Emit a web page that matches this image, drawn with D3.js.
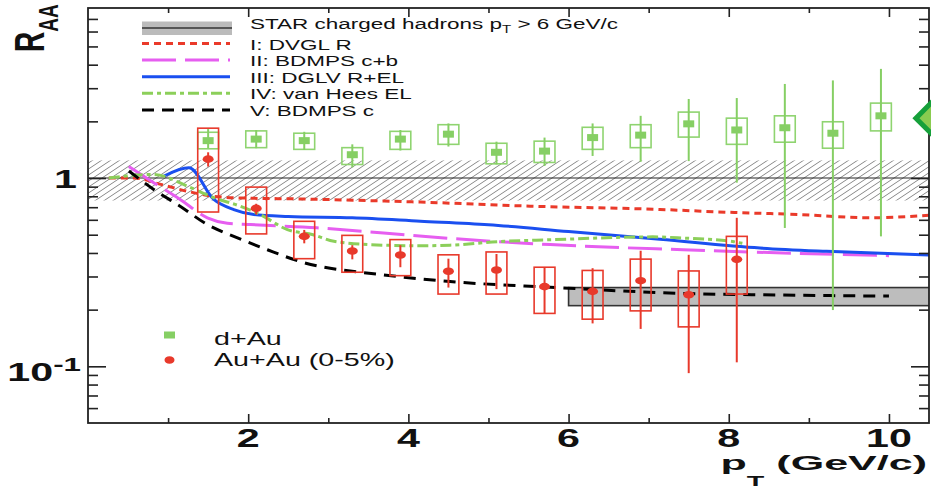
<!DOCTYPE html>
<html>
<head>
<meta charset="utf-8">
<script src="https://cdn.jsdelivr.net/npm/d3@7"></script>
<style>
  body { margin: 0; background: #fff; }
  svg { display: block; }
  text { font-family: "Liberation Sans", Arial, Helvetica, sans-serif; fill: #111; }
</style>
</head>
<body>
<svg id="chart" width="931" height="488"></svg>
<script>
// ---------------- data ----------------
// pT bin centres (GeV/c)
const ptBins = [1.5, 2.1, 2.7, 3.3, 3.9, 4.5, 5.1, 5.7, 6.3, 6.9, 7.5, 8.1, 8.7, 9.3, 9.9];

// d+Au non-photonic electron R_dAu
const dAuValues   = [1.58, 1.61, 1.58, 1.33, 1.61, 1.71, 1.37, 1.39, 1.64, 1.69, 1.94, 1.80, 1.85, 1.73, 2.14];
const dAuStatLow  = [1.44, 1.44, 1.41, 1.14, 1.40, 1.47, 1.18, 1.16, 1.31, 1.22, 1.23, 0.945, 0.543, 0.199, 0.49];
const dAuStatHigh = [1.82, 1.80, 1.76, 1.51, 1.80, 1.95, 1.56, 1.64, 1.95, 2.14, 2.63, 2.66, 3.16, 3.30, 3.80];
const dAuSysLow   = [1.43, 1.45, 1.42, 1.18, 1.42, 1.51, 1.19, 1.21, 1.42, 1.45, 1.65, 1.51, 1.55, 1.44, 1.78];
const dAuSysHigh  = [1.75, 1.78, 1.73, 1.45, 1.77, 1.92, 1.53, 1.57, 1.86, 1.92, 2.24, 2.08, 2.14, 1.99, 2.50];

// Au+Au (0-5%) R_AA, first 12 bins
const auAuValues   = [1.26, 0.69, 0.49, 0.41, 0.39, 0.32, 0.325, 0.265, 0.25, 0.285, 0.24, 0.37];
const auAuStatLow  = [1.15, 0.64, 0.45, 0.37, 0.336, 0.262, 0.257, 0.191, 0.169, 0.158, 0.092, 0.105];
const auAuStatHigh = [1.37, 0.73, 0.53, 0.44, 0.44, 0.373, 0.395, 0.336, 0.332, 0.411, 0.391, 0.615];
const auAuSysLow   = [0.66, 0.505, 0.373, 0.316, 0.303, 0.242, 0.242, 0.191, 0.178, 0.197, 0.162, 0.242];
const auAuSysHigh  = [1.84, 0.895, 0.589, 0.496, 0.471, 0.391, 0.405, 0.336, 0.323, 0.371, 0.321, 0.49];

// Theory curves
const dvglPt   = [0.26, 0.57, 0.91, 1.24, 1.57, 1.9, 2.65, 4.15, 5.52, 7.14, 8.07, 8.88, 9.76, 10.5];
const dvglR    = [1.0, 1.0, 0.925, 0.85, 0.80, 0.784, 0.774, 0.745, 0.709, 0.681, 0.656, 0.64, 0.615, 0.634];
const bdmpsCbPt = [0.51, 0.82, 1.15, 1.49, 1.74, 2.03, 2.86, 3.69, 4.52, 5.77, 7.43, 8.68, 10.0];
const bdmpsCbR  = [1.15, 0.945, 0.77, 0.615, 0.575, 0.566, 0.544, 0.511, 0.478, 0.443, 0.416, 0.40, 0.387];
const dglvPt   = [0.95, 1.26, 1.57, 1.82, 2.07, 2.5, 3.3, 4.15, 5.0, 6.0, 7.14, 8.39, 9.22, 10.5];
const dglvR    = [1.025, 1.135, 0.77, 0.68, 0.64, 0.625, 0.615, 0.59, 0.565, 0.52, 0.473, 0.425, 0.408, 0.39];
const vanHeesPt = [0.26, 0.82, 1.24, 1.57, 1.9, 2.15, 2.49, 2.81, 3.07, 3.69, 4.15, 4.52, 5.15, 5.77, 7.05, 7.43, 8.05, 8.17];
const vanHeesR  = [1.0, 1.046, 0.906, 0.786, 0.709, 0.64, 0.532, 0.50, 0.461, 0.44, 0.437, 0.44, 0.46, 0.47, 0.487, 0.48, 0.46, 0.45];
const bdmpsCPt = [0.51, 0.82, 1.15, 1.49, 1.82, 2.24, 2.65, 3.69, 4.52, 5.77, 7.43, 8.68, 10.0];
const bdmpsCR  = [1.09, 0.87, 0.709, 0.566, 0.49, 0.416, 0.36, 0.306, 0.282, 0.263, 0.244, 0.239, 0.236];

// Normalisation uncertainty band and STAR charged hadron band
const normBand = [0.76, 1.24];
const hadronBandPt = [6.0, 10.5];
const hadronBandR = [0.21, 0.262];

// Marker at the right edge
const edgeMarkerPt = [10.58];
const edgeMarkerR = [2.08];

// Axes ticks and labels
const xMajorTicks = [2, 4, 6, 8, 10];
const xMinorTicks = [1, 3, 5, 7, 9];
const yMajorTicks = [0.1, 1];
const yLabelBase = ["10", "1"];
const yLabelExp = ["-1", ""];
const yMinorTicks = [0.06, 0.07, 0.08, 0.09, 0.2, 0.3, 0.4, 0.5, 0.6, 0.7, 0.8, 0.9, 2, 3, 4, 5, 6, 7];

const curveNames = ["I: DVGL R", "II: BDMPS c+b", "III: DGLV R+EL", "IV: van Hees EL", "V: BDMPS c"];
const curveColors = ["#ea3a2a", "#e65ef0", "#1a4ff0", "#8ccf5a", "#000000"];
const curveDashes = ["7,5", "34,9", null, "11,4,4,4", "12,8"];
const curvePts = [dvglPt, bdmpsCbPt, dglvPt, vanHeesPt, bdmpsCPt];
const curveRs  = [dvglR, bdmpsCbR, dglvR, vanHeesR, bdmpsCR];

// ---------------- drawing ----------------
const svg = d3.select("#chart");
const X0 = 88, X1 = 929, Y0 = 423, Y1 = 8;
const x = d3.scaleLinear().domain([0, 10.5]).range([X0, X1]);
const y = d3.scaleLog().domain([0.05, 8]).range([Y0, Y1]);

const GREEN = "#86cf64", GREEN_BOX = "#8fd470", RED = "#e8392b";

// hatch pattern
const defs = svg.append("defs");
const pat = defs.append("pattern").attr("id", "hatch")
  .attr("patternUnits", "userSpaceOnUse").attr("width", 9).attr("height", 6);
pat.append("path").attr("d", "M0,6 L9,0 M-1,0.667 L1,-0.667 M8,6.667 L10,5.333")
  .attr("stroke", "#7a7a7a").attr("stroke-width", 0.9).attr("fill", "none");
defs.append("clipPath").attr("id", "plotClip").append("rect")
  .attr("x", X0).attr("y", Y1).attr("width", X1 - X0).attr("height", Y0 - Y1);

const plot = svg.append("g").attr("clip-path", "url(#plotClip)");

// normalisation band
plot.append("rect")
  .attr("x", X0).attr("width", X1 - X0)
  .attr("y", y(normBand[1])).attr("height", y(normBand[0]) - y(normBand[1]))
  .attr("fill", "url(#hatch)");
plot.append("line")
  .attr("x1", X0).attr("x2", X1).attr("y1", y(1)).attr("y2", y(1))
  .attr("stroke", "#222").attr("stroke-width", 1.1);

// STAR charged hadrons band
plot.append("rect")
  .attr("x", x(hadronBandPt[0])).attr("width", x(hadronBandPt[1]) - x(hadronBandPt[0]) + 4)
  .attr("y", y(hadronBandR[1])).attr("height", y(hadronBandR[0]) - y(hadronBandR[1]))
  .attr("fill", "#bdbdbd").attr("stroke", "#333").attr("stroke-width", 1.6);

// theory curves
const line = d3.line().x(d => x(d[0])).y(d => y(d[1])).curve(d3.curveMonotoneX);
curvePts.forEach((pts, i) => {
  plot.append("path")
    .datum(pts.map((p, k) => [p, curveRs[i][k]]))
    .attr("d", line)
    .attr("fill", "none")
    .attr("stroke", curveColors[i])
    .attr("stroke-width", 3)
    .attr("stroke-dasharray", curveDashes[i]);
});

// data points with systematic boxes and statistical bars
const boxHalf = 0.13;
function drawSeries(n, vals, sLo, sHi, eLo, eHi, boxColor, barColor, markerFn) {
  const g = plot.append("g");
  const idx = d3.range(n);
  g.selectAll(".sys").data(idx).join("rect")
    .attr("x", i => x(ptBins[i] - boxHalf)).attr("width", i => x(ptBins[i] + boxHalf) - x(ptBins[i] - boxHalf))
    .attr("y", i => y(sHi[i])).attr("height", i => y(sLo[i]) - y(sHi[i]))
    .attr("fill", "none").attr("stroke", boxColor).attr("stroke-width", 1.6);
  g.selectAll(".stat").data(idx).join("line")
    .attr("x1", i => x(ptBins[i])).attr("x2", i => x(ptBins[i]))
    .attr("y1", i => y(eHi[i])).attr("y2", i => y(eLo[i]))
    .attr("stroke", barColor).attr("stroke-width", 2);
  markerFn(g, idx, vals);
}
drawSeries(dAuValues.length, dAuValues, dAuSysLow, dAuSysHigh, dAuStatLow, dAuStatHigh, GREEN_BOX, GREEN,
  (g, idx, vals) => g.selectAll(".m").data(idx).join("rect")
    .attr("x", i => x(ptBins[i]) - 5.5).attr("y", i => y(vals[i]) - 3.5)
    .attr("width", 11).attr("height", 7).attr("fill", GREEN));
drawSeries(auAuValues.length, auAuValues, auAuSysLow, auAuSysHigh, auAuStatLow, auAuStatHigh, RED, RED,
  (g, idx, vals) => g.selectAll(".m").data(idx).join("ellipse")
    .attr("cx", i => x(ptBins[i])).attr("cy", i => y(vals[i]))
    .attr("rx", 5.5).attr("ry", 3.8).attr("fill", RED));

// frame and ticks
const axG = svg.append("g").attr("stroke", "#222");
axG.append("rect").attr("x", X0).attr("y", Y1).attr("width", X1 - X0).attr("height", Y0 - Y1)
  .attr("fill", "none").attr("stroke-width", 1.8);

function tickAxis(axisFn, scale, ticks, size, transform) {
  const a = axisFn(scale).tickValues(ticks).tickSize(size).tickFormat("");
  const g = svg.append("g").attr("transform", transform).call(a);
  g.select(".domain").remove();
  g.selectAll(".tick line").attr("stroke", "#222").attr("stroke-width", 1.6);
}
// bottom and top (ticks point inward)
tickAxis(d3.axisBottom, x, xMajorTicks, -9, `translate(0,${Y0})`);
tickAxis(d3.axisBottom, x, xMinorTicks, -5, `translate(0,${Y0})`);
tickAxis(d3.axisTop, x, xMajorTicks, -9, `translate(0,${Y1})`);
tickAxis(d3.axisTop, x, xMinorTicks, -5, `translate(0,${Y1})`);
// left and right
tickAxis(d3.axisLeft, y, yMajorTicks, -18, `translate(${X0},0)`);
tickAxis(d3.axisLeft, y, yMinorTicks, -10, `translate(${X0},0)`);
tickAxis(d3.axisRight, y, yMajorTicks, -18, `translate(${X1},0)`);
tickAxis(d3.axisRight, y, yMinorTicks, -10, `translate(${X1},0)`);

// horizontally stretched text helper
function stext(px, py, sx, size, weight, anchor, rot) {
  return svg.append("text")
    .attr("transform", `translate(${px},${py}) scale(${sx},1)` + (rot ? ` rotate(${rot})` : ""))
    .attr("font-size", size).attr("font-weight", weight).attr("text-anchor", anchor);
}

// x tick labels
xMajorTicks.forEach(v => {
  stext(x(v), 446.5, 1.65, 25, "bold", "middle").text(v);
});
// y tick labels (a power-of-ten label sits a little lower, centred with its exponent)
yMajorTicks.forEach((v, i) => {
  const hasExp = !!yLabelExp[i];
  const t = stext(hasExp ? 81 : 77, y(v) + (hasExp ? 15 : 9.5), 1.65, 25, "bold", "end");
  t.append("tspan").text(yLabelBase[i]);
  if (hasExp) t.append("tspan").attr("font-size", 19).attr("dy", -10).text(yLabelExp[i]);
});

// axis titles
const yt = stext(44, 52, 1.5, 28, "bold", "start", -90);
yt.append("tspan").text("R");
yt.append("tspan").attr("font-size", 19).attr("dy", 9.5).text("AA");

const xt = stext(927, 470, 2.05, 21, "bold", "end");
xt.append("tspan").text("p");
xt.append("tspan").attr("font-size", 14).attr("dy", 16).text("T");
xt.append("tspan").attr("dy", -16).text(" (GeV/c)");

// top legend
const legX0 = 142, legX1 = 230, legTextX = 250;
svg.append("rect").attr("x", legX0).attr("y", 21.5).attr("width", legX1 - legX0 + 2).attr("height", 13.5)
  .attr("fill", "#bbbbbb");
svg.append("line").attr("x1", legX0).attr("x2", legX1 + 2).attr("y1", 28).attr("y2", 28)
  .attr("stroke", "#555").attr("stroke-width", 2);
const st = stext(legTextX, 28.5, 1.5, 15, "normal", "start");
st.append("tspan").text("STAR charged hadrons p");
st.append("tspan").attr("font-size", 10).attr("dy", 4).text("T");
st.append("tspan").attr("dy", -4).text(" > 6 GeV/c");

curveNames.forEach((name, i) => {
  const ly = 43.5 + i * 16.6;
  svg.append("line").attr("x1", legX0).attr("x2", legX1).attr("y1", ly).attr("y2", ly)
    .attr("stroke", curveColors[i]).attr("stroke-width", 3)
    .attr("stroke-dasharray", curveDashes[i]);
  stext(legTextX, ly + 6, 1.5, 15, "normal", "start").text(name);
});

// bottom legend
svg.append("rect").attr("x", 164).attr("y", 331.5).attr("width", 11).attr("height", 7).attr("fill", GREEN);
svg.append("ellipse").attr("cx", 169.5).attr("cy", 360).attr("rx", 5).attr("ry", 3.8).attr("fill", RED);
stext(214, 345, 1.55, 18.5, "normal", "start").text("d+Au");
stext(214, 366, 1.55, 18.5, "normal", "start").text("Au+Au (0-5%)");

// marker past the right edge
svg.selectAll(".edge").data(edgeMarkerPt).join("path")
  .attr("transform", (d, i) => `translate(${x(d)},${y(edgeMarkerR[i])}) rotate(45)`)
  .attr("d", d3.symbol(d3.symbolSquare, 760)())
  .attr("fill", "#8acc50").attr("stroke", "#16a03a").attr("stroke-width", 5);
</script>
</body>
</html>
